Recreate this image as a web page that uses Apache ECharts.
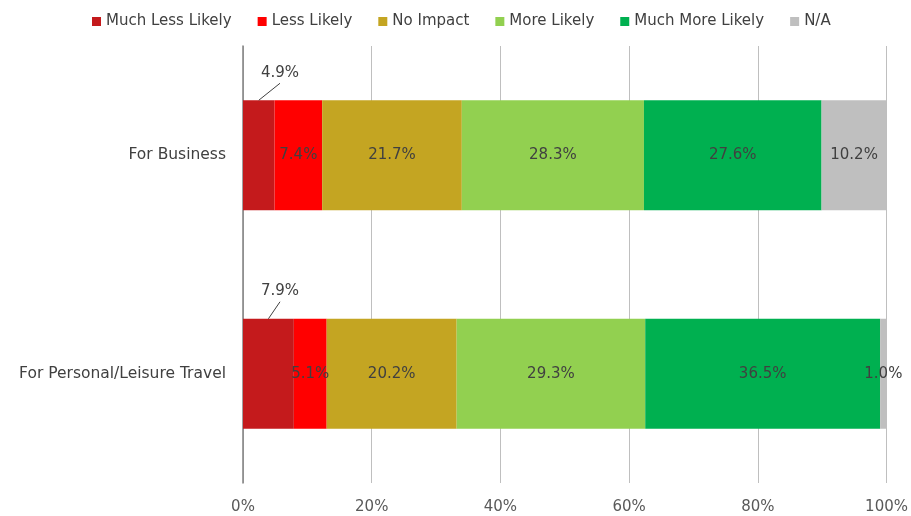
<!DOCTYPE html>
<html><head><meta charset="utf-8">
<script src="https://cdn.jsdelivr.net/npm/echarts@6/dist/echarts.min.js"></script>
<style>html,body{margin:0;padding:0;background:#fff}#c{width:911px;height:516px}</style>
</head><body><div id="c"></div>
<script>
const categories = ["For Business", "For Personal/Leisure Travel"];
const seriesNames = ["Much Less Likely", "Less Likely", "No Impact", "More Likely", "Much More Likely", "N/A"];
const muchLess = [4.9, 7.9];
const less = [7.4, 5.1];
const noImpact = [21.7, 20.2];
const more = [28.3, 29.3];
const muchMore = [27.6, 36.5];
const na = [10.2, 1.0];
const xTicks = [0, 20, 40, 60, 80, 100];
const colors = ["#C41A1C", "#FF0000", "#C4A522", "#92D050", "#00B050", "#BFBFBF"];

const FONT = "DejaVu Sans";
const FS = 15;
const values = [muchLess, less, noImpact, more, muchMore, na];
const fmt = v => v.toFixed(1) + '%';
const series = values.map((v, i) => ({
  name: seriesNames[i], type: 'bar', stack: 'total', data: v,
  barWidth: 110,
  itemStyle: { color: colors[i] },
  label: { show: i !== 0, position: 'inside', formatter: p => fmt(p.value),
    color: '#404040', fontSize: FS, fontFamily: FONT }
}));

// leader-line callouts for the first (small) segment
series.push({
  type: 'custom', name: 'callout', silent: true, z: 5,
  data: muchLess.map((v, i) => [v, i]),
  renderItem: (params, api) => {
    const v = api.value(0), idx = api.value(1);
    const c = api.coord([v / 2, idx]);
    const x0 = api.coord([0, idx])[0];
    const top = c[1] - 55;
    const ex = x0 + 37, ey = top - 17;
    return { type: 'group', children: [
      { type: 'line', shape: { x1: c[0], y1: top, x2: ex, y2: ey },
        style: { stroke: '#404040', lineWidth: 1 } },
      { type: 'text', x: ex, y: ey - 3,
        style: { text: fmt(v), fill: '#404040', font: FS + 'px "' + FONT + '"',
          textAlign: 'center', textVerticalAlign: 'bottom' } }
    ]};
  }
});

const chart = echarts.init(document.getElementById('c'));
chart.setOption({
  animation: false,
  textStyle: { fontFamily: FONT },
  legend: { top: 9, left: 87, itemWidth: 9, itemHeight: 9, itemGap: 26,
    icon: 'rect', textStyle: { fontSize: FS, color: '#404040', fontFamily: FONT },
    data: seriesNames },
  grid: { left: 243, right: 24, top: 46, bottom: 33, containLabel: false },
  xAxis: { type: 'value', min: 0, max: 100, interval: 20,
    axisLabel: { formatter: v => xTicks.includes(v) ? v + '%' : '', color: '#595959', fontSize: FS, margin: 17, fontFamily: FONT },
    splitLine: { show: true, lineStyle: { color: '#BFBFBF', width: 1 } },
    axisLine: { show: false }, axisTick: { show: false } },
  yAxis: { type: 'category', data: categories, inverse: true,
    axisLabel: { color: '#404040', fontSize: 15.5, margin: 17, fontFamily: FONT },
    axisLine: { show: true, lineStyle: { color: '#808080', width: 1.5 } }, axisTick: { show: false } },
  series
});
</script></body></html>
